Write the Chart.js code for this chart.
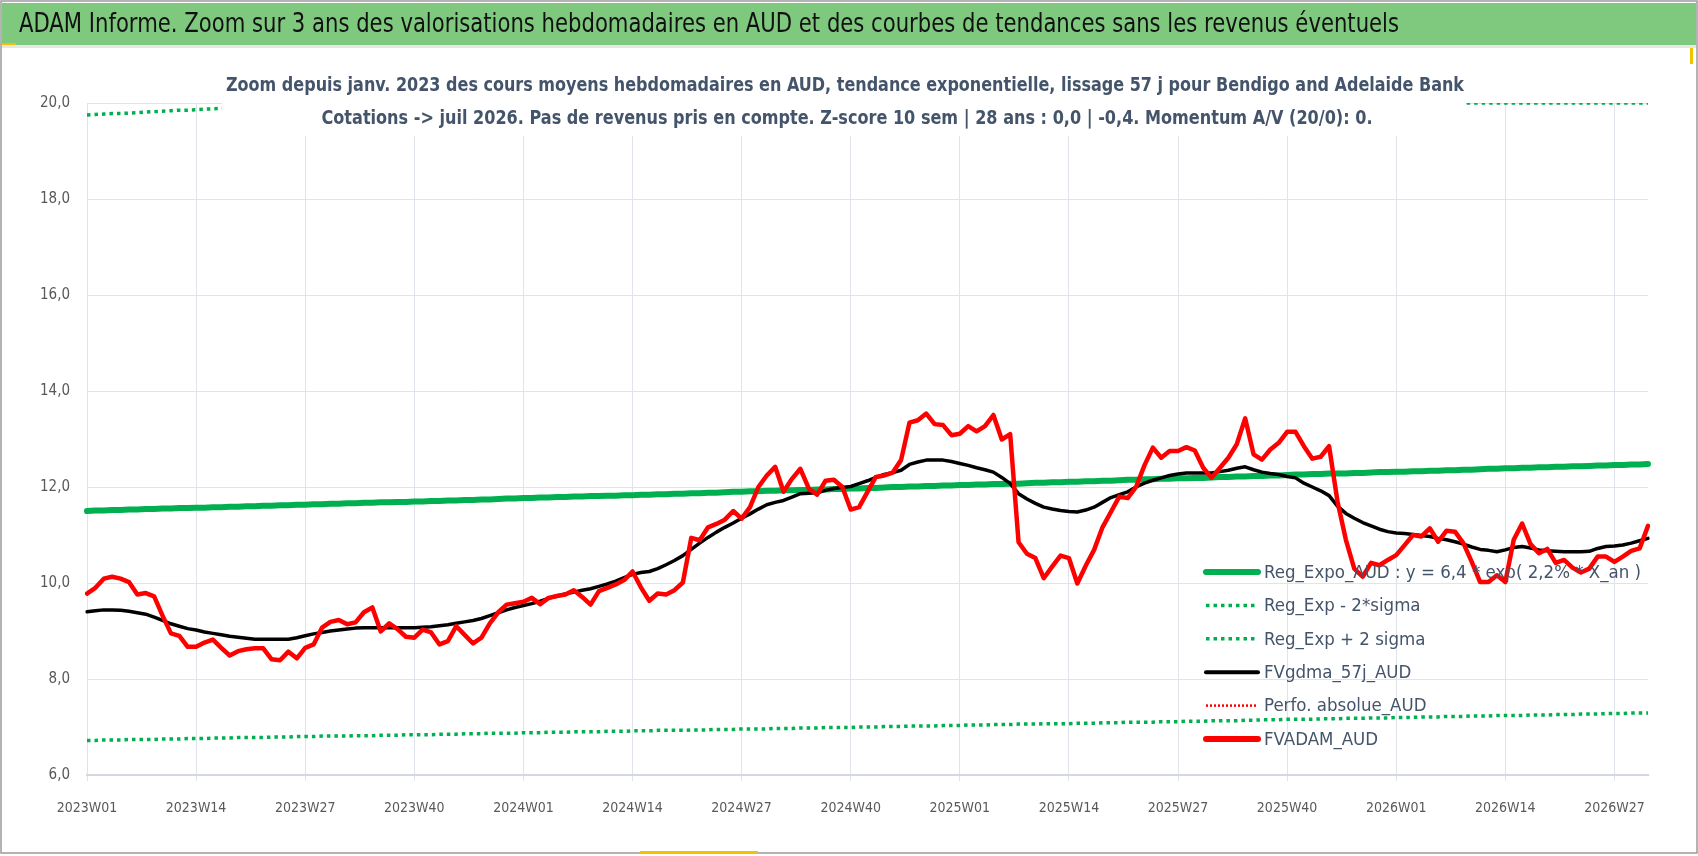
<!DOCTYPE html>
<html>
<head>
<meta charset="utf-8">
<script src="https://cdn.jsdelivr.net/npm/chart.js@4.4.1/dist/chart.umd.min.js"></script>
<style>
  html, body { margin: 0; padding: 0; background: #fff; }
  #wrap { width: 1698px; height: 856px; }
</style>
</head>
<body>
<div id="wrap"><canvas id="canvas" width="1698" height="856"></canvas></div>
<script>
var FONT = '"Liberation Sans Narrow", "DejaVu Sans Condensed", "Noto Sans", sans-serif';

var mainTitle = 'ADAM Informe. Zoom sur 3 ans des valorisations hebdomadaires en AUD et des courbes de tendances sans les revenus éventuels';
var subTitle = [
    'Zoom depuis janv. 2023 des cours moyens hebdomadaires en AUD, tendance exponentielle, lissage 57 j pour Bendigo and Adelaide Bank',
    'Cotations -> juil 2026. Pas de revenus pris en compte. Z-score 10 sem | 28 ans : 0,0 | -0,4. Momentum A/V (20/0): 0.'
];

// weeks per year shown on the axis (2026 stops at W31)
var years = [2023, 2024, 2025, 2026];
var weeksInYear = [52, 52, 52, 31];

// FVADAM_AUD, weekly
var fvadam = [
    9.78, 9.90, 10.09, 10.13, 10.09, 10.02, 9.76, 9.79, 9.72, 9.32,
    8.95, 8.90, 8.67, 8.67, 8.76, 8.82, 8.65, 8.49, 8.58, 8.62,
    8.64, 8.64, 8.41, 8.39, 8.57, 8.43, 8.65, 8.72, 9.07, 9.19,
    9.23, 9.14, 9.18, 9.39, 9.49, 8.99, 9.16, 9.04, 8.88, 8.86,
    9.03, 8.97, 8.72, 8.79, 9.10, 8.92, 8.74, 8.86, 9.16, 9.39,
    9.55, 9.58, 9.61, 9.69, 9.56, 9.69, 9.73, 9.76, 9.85, 9.71,
    9.55, 9.83, 9.90, 9.97, 10.06, 10.24, 9.91, 9.63, 9.78, 9.76,
    9.85, 10.01, 10.94, 10.89, 11.16, 11.23, 11.32, 11.50, 11.34, 11.58,
    12.00, 12.24, 12.42, 11.90, 12.17, 12.38, 11.97, 11.84, 12.13, 12.15,
    12.00, 11.53, 11.58, 11.90, 12.21, 12.24, 12.30, 12.56, 13.34, 13.39,
    13.53, 13.31, 13.29, 13.08, 13.11, 13.27, 13.16, 13.27, 13.50, 12.99,
    13.10, 10.85, 10.61, 10.52, 10.10, 10.34, 10.57, 10.52, 9.99, 10.36,
    10.69, 11.16, 11.48, 11.80, 11.77, 12.00, 12.45, 12.82, 12.61, 12.75,
    12.75, 12.83, 12.76, 12.40, 12.19, 12.40, 12.61, 12.89, 13.43, 12.68,
    12.57, 12.78, 12.92, 13.15, 13.15, 12.85, 12.59, 12.63, 12.85, 11.70,
    10.90, 10.30, 10.13, 10.42, 10.37, 10.48, 10.58, 10.79, 11.00, 10.97,
    11.14, 10.86, 11.09, 11.07, 10.83, 10.44, 10.02, 10.02, 10.16, 10.02,
    10.90, 11.24, 10.81, 10.62, 10.71, 10.42, 10.48, 10.32, 10.22, 10.30,
    10.55, 10.55, 10.44, 10.55, 10.67, 10.72, 11.19
];

// FVgdma_57j_AUD, weekly
var fvgdma = [
    9.40, 9.42, 9.44, 9.44, 9.43, 9.41, 9.38, 9.35, 9.29, 9.22,
    9.15, 9.10, 9.05, 9.02, 8.98, 8.95, 8.92, 8.89, 8.87, 8.85,
    8.83, 8.83, 8.83, 8.83, 8.83, 8.86, 8.90, 8.94, 8.97, 9.00,
    9.02, 9.04, 9.06, 9.07, 9.07, 9.07, 9.07, 9.07, 9.07, 9.07,
    9.08, 9.09, 9.11, 9.13, 9.16, 9.19, 9.22, 9.26, 9.32, 9.38,
    9.44, 9.49, 9.53, 9.57, 9.62, 9.68, 9.73, 9.77, 9.81, 9.85,
    9.88, 9.93, 9.98, 10.04, 10.11, 10.18, 10.22, 10.24, 10.30, 10.38,
    10.47, 10.57, 10.70, 10.83, 10.95, 11.06, 11.16, 11.25, 11.35, 11.44,
    11.54, 11.63, 11.68, 11.72, 11.79, 11.86, 11.87, 11.88, 11.93, 11.97,
    11.99, 12.01, 12.07, 12.13, 12.20, 12.26, 12.30, 12.35, 12.47, 12.52,
    12.56, 12.56, 12.56, 12.53, 12.49, 12.45, 12.40, 12.36, 12.31, 12.20,
    12.07, 11.86, 11.75, 11.66, 11.58, 11.54, 11.51, 11.49, 11.48, 11.52,
    11.58, 11.68, 11.78, 11.84, 11.90, 12.00, 12.08, 12.14, 12.19, 12.24,
    12.27, 12.29, 12.29, 12.29, 12.29, 12.32, 12.35, 12.39, 12.42, 12.36,
    12.31, 12.28, 12.26, 12.22, 12.19, 12.08, 12.00, 11.92, 11.82, 11.60,
    11.45, 11.35, 11.26, 11.19, 11.12, 11.07, 11.04, 11.03, 11.01, 10.99,
    10.97, 10.93, 10.90, 10.86, 10.81, 10.75, 10.70, 10.68, 10.65, 10.69,
    10.74, 10.76, 10.73, 10.69, 10.67, 10.66, 10.65, 10.65, 10.65, 10.66,
    10.72, 10.76, 10.77, 10.79, 10.83, 10.88, 10.93
];

// Reg_Expo_AUD
var regExpo = [
    11.50, 11.51, 11.51, 11.52, 11.52, 11.53, 11.53, 11.54, 11.54, 11.55,
    11.55, 11.56, 11.56, 11.57, 11.57, 11.58, 11.58, 11.59, 11.59, 11.60,
    11.60, 11.61, 11.61, 11.62, 11.62, 11.63, 11.63, 11.64, 11.64, 11.65,
    11.65, 11.66, 11.66, 11.67, 11.67, 11.68, 11.68, 11.69, 11.69, 11.70,
    11.70, 11.71, 11.71, 11.72, 11.72, 11.73, 11.73, 11.74, 11.74, 11.75,
    11.76, 11.76, 11.77, 11.77, 11.78, 11.78, 11.79, 11.79, 11.80, 11.80,
    11.81, 11.81, 11.82, 11.82, 11.83, 11.83, 11.84, 11.84, 11.85, 11.85,
    11.86, 11.86, 11.87, 11.87, 11.88, 11.88, 11.89, 11.90, 11.90, 11.91,
    11.91, 11.92, 11.92, 11.93, 11.93, 11.94, 11.94, 11.95, 11.95, 11.96,
    11.96, 11.97, 11.97, 11.98, 11.98, 11.99, 12.00, 12.00, 12.01, 12.01,
    12.02, 12.02, 12.03, 12.03, 12.04, 12.04, 12.05, 12.05, 12.06, 12.06,
    12.07, 12.07, 12.08, 12.09, 12.09, 12.10, 12.10, 12.11, 12.11, 12.12,
    12.12, 12.13, 12.13, 12.14, 12.15, 12.15, 12.16, 12.16, 12.17, 12.17,
    12.18, 12.18, 12.19, 12.19, 12.20, 12.21, 12.21, 12.22, 12.22, 12.23,
    12.23, 12.24, 12.24, 12.25, 12.26, 12.26, 12.27, 12.27, 12.28, 12.28,
    12.28, 12.29, 12.29, 12.30, 12.31, 12.31, 12.32, 12.32, 12.33, 12.33,
    12.34, 12.34, 12.35, 12.35, 12.36, 12.36, 12.37, 12.38, 12.38, 12.39,
    12.39, 12.40, 12.40, 12.41, 12.41, 12.42, 12.42, 12.43, 12.43, 12.44,
    12.45, 12.45, 12.46, 12.46, 12.47, 12.47, 12.48
];

// Reg_Exp - 2*sigma
var regLow = [
    6.72, 6.72, 6.73, 6.73, 6.73, 6.74, 6.74, 6.74, 6.74, 6.75,
    6.75, 6.75, 6.76, 6.76, 6.76, 6.77, 6.77, 6.77, 6.78, 6.78,
    6.78, 6.78, 6.79, 6.79, 6.79, 6.80, 6.80, 6.80, 6.81, 6.81,
    6.81, 6.81, 6.82, 6.82, 6.82, 6.83, 6.83, 6.83, 6.84, 6.84,
    6.84, 6.84, 6.85, 6.85, 6.85, 6.86, 6.86, 6.86, 6.87, 6.87,
    6.87, 6.87, 6.88, 6.88, 6.88, 6.89, 6.89, 6.89, 6.90, 6.90,
    6.90, 6.90, 6.91, 6.91, 6.91, 6.92, 6.92, 6.92, 6.93, 6.93,
    6.93, 6.93, 6.94, 6.94, 6.94, 6.95, 6.95, 6.95, 6.96, 6.96,
    6.96, 6.96, 6.97, 6.97, 6.97, 6.98, 6.98, 6.98, 6.99, 6.99,
    6.99, 6.99, 7.00, 7.00, 7.00, 7.01, 7.01, 7.01, 7.02, 7.02,
    7.02, 7.02, 7.03, 7.03, 7.03, 7.04, 7.04, 7.04, 7.05, 7.05,
    7.05, 7.06, 7.06, 7.06, 7.07, 7.07, 7.07, 7.07, 7.08, 7.08,
    7.08, 7.09, 7.09, 7.09, 7.10, 7.10, 7.10, 7.10, 7.11, 7.11,
    7.11, 7.12, 7.12, 7.12, 7.13, 7.13, 7.13, 7.13, 7.14, 7.14,
    7.15, 7.15, 7.15, 7.16, 7.16, 7.16, 7.16, 7.17, 7.17, 7.17,
    7.18, 7.18, 7.18, 7.19, 7.19, 7.19, 7.20, 7.20, 7.20, 7.21,
    7.21, 7.21, 7.22, 7.22, 7.22, 7.23, 7.23, 7.23, 7.24, 7.24,
    7.24, 7.24, 7.25, 7.25, 7.25, 7.26, 7.26, 7.26, 7.27, 7.27,
    7.27, 7.28, 7.28, 7.28, 7.29, 7.29, 7.29
];

// Reg_Exp + 2 sigma (held at the 20,0 ceiling once it leaves the axis, as drawn)
var regHigh = [
    19.75, 19.76, 19.77, 19.78, 19.78, 19.79, 19.80, 19.81, 19.82, 19.83,
    19.84, 19.85, 19.85, 19.86, 19.87, 19.88, 19.89, 19.90, 19.91, 19.91,
    19.92, 19.93, 19.94, 19.95, 19.96, 19.97, 19.98, 19.98, 19.99, 20.00,
    20.00, 20.00, 20.00, 20.00, 20.00, 20.00, 20.00, 20.00, 20.00, 20.00,
    20.00, 20.00, 20.00, 20.00, 20.00, 20.00, 20.00, 20.00, 20.00, 20.00,
    20.00, 20.00, 20.00, 20.00, 20.00, 20.00, 20.00, 20.00, 20.00, 20.00,
    20.00, 20.00, 20.00, 20.00, 20.00, 20.00, 20.00, 20.00, 20.00, 20.00,
    20.00, 20.00, 20.00, 20.00, 20.00, 20.00, 20.00, 20.00, 20.00, 20.00,
    20.00, 20.00, 20.00, 20.00, 20.00, 20.00, 20.00, 20.00, 20.00, 20.00,
    20.00, 20.00, 20.00, 20.00, 20.00, 20.00, 20.00, 20.00, 20.00, 20.00,
    20.00, 20.00, 20.00, 20.00, 20.00, 20.00, 20.00, 20.00, 20.00, 20.00,
    20.00, 20.00, 20.00, 20.00, 20.00, 20.00, 20.00, 20.00, 20.00, 20.00,
    20.00, 20.00, 20.00, 20.00, 20.00, 20.00, 20.00, 20.00, 20.00, 20.00,
    20.00, 20.00, 20.00, 20.00, 20.00, 20.00, 20.00, 20.00, 20.00, 20.00,
    20.00, 20.00, 20.00, 20.00, 20.00, 20.00, 20.00, 20.00, 20.00, 20.00,
    20.00, 20.00, 20.00, 20.00, 20.00, 20.00, 20.00, 20.00, 20.00, 20.00,
    20.00, 20.00, 20.00, 20.00, 20.00, 20.00, 20.00, 20.00, 20.00, 20.00,
    20.00, 20.00, 20.00, 20.00, 20.00, 20.00, 20.00, 20.00, 20.00, 20.00,
    20.00, 20.00, 20.00, 20.00, 20.00, 20.00, 20.00
];

// Perfo. absolue_AUD has no point in this window
var perfoAbs = [];

var weekLabels = [];
years.forEach(function (y, k) {
    for (var w = 1; w <= weeksInYear[k]; w++) {
        weekLabels.push(y + 'W' + (w < 10 ? '0' + w : w));
    }
});
weekLabels = weekLabels.slice(0, fvadam.length);

// draw text squeezed/stretched to a given width (Excel font is narrower)
function fitText(ctx, text, x, y, width, align) {
    var w = ctx.measureText(text).width;
    var sx = width / w;
    ctx.save();
    ctx.translate(align === 'center' ? x - width / 2 : x, y);
    ctx.scale(sx, 1);
    ctx.textAlign = 'left';
    ctx.fillText(text, 0, 0);
    ctx.restore();
}

var decorPlugin = {
    id: 'decor',
    beforeDraw: function (chart) {
        var ctx = chart.ctx;
        ctx.save();
        ctx.fillStyle = '#ffffff';
        ctx.fillRect(0, 0, chart.width, chart.height);
        ctx.fillStyle = '#7fc97f';
        ctx.fillRect(2, 3, 1694, 42);
        ctx.fillStyle = '#e6e6e6';
        ctx.fillRect(2, 45, 1694, 3);
        ctx.strokeStyle = '#9a9a9a';
        ctx.lineWidth = 1.5;
        ctx.strokeRect(1, 1, 1696, 852);
        ctx.fillStyle = '#f2c200';
        ctx.fillRect(2, 43, 14, 2);
        ctx.fillRect(1690, 48, 3, 16);
        ctx.fillRect(640, 851, 118, 3);
        ctx.fillStyle = '#111111';
        ctx.font = '27px ' + FONT;
        ctx.textBaseline = 'middle';
        fitText(ctx, mainTitle, 19, 25, 1380);
        ctx.restore();
    },
    afterDatasetsDraw: function (chart) {
        var ctx = chart.ctx;
        ctx.save();
        // subtitle box sits over the top of the plot
        ctx.fillStyle = '#ffffff';
        ctx.fillRect(222, 58, 1244, 78);
        ctx.fillStyle = '#44546a';
        ctx.font = 'bold 20px ' + FONT;
        ctx.textBaseline = 'middle';
        fitText(ctx, subTitle[0], 845, 86, 1238, 'center');
        fitText(ctx, subTitle[1], 847, 119, 1051, 'center');

        // legend inside the plot, lower right
        var x0 = 1206, len = 52, y0 = 572, step = 33.4;
        ctx.font = '18.5px ' + FONT;
        chart.data.datasets.forEach(function (ds, k) {
            var y = y0 + k * step;
            ctx.save();
            ctx.strokeStyle = ds.borderColor;
            ctx.lineWidth = ds.legendWidth;
            ctx.lineCap = ds.borderDash.length ? 'butt' : 'round';
            ctx.setLineDash(ds.borderDash);
            ctx.beginPath();
            ctx.moveTo(x0, y);
            ctx.lineTo(x0 + len, y);
            ctx.stroke();
            ctx.restore();
            ctx.fillStyle = '#44546a';
            ctx.textAlign = 'left';
            ctx.fillText(ds.label, x0 + len + 6, y + 1);
        });
        ctx.restore();
    }
};

var gridColor = '#dfe3ea';

new Chart(document.getElementById('canvas').getContext('2d'), {
    type: 'line',
    data: {
        labels: weekLabels,
        datasets: [
            { label: 'Reg_Expo_AUD : y = 6,4 * exp( 2,2% * X_an )', data: regExpo,
              borderColor: '#00b050', borderWidth: 6, borderDash: [], legendWidth: 6, order: 2 },
            { label: 'Reg_Exp - 2*sigma', data: regLow, borderCapStyle: 'butt',
              borderColor: '#00b050', borderWidth: 3.5, borderDash: [3.5, 4], legendWidth: 3.5, order: 3 },
            { label: 'Reg_Exp + 2 sigma', data: regHigh, borderCapStyle: 'butt',
              borderColor: '#00b050', borderWidth: 3.5, borderDash: [3.5, 4], legendWidth: 3.5, order: 3 },
            { label: 'FVgdma_57j_AUD', data: fvgdma,
              borderColor: '#000000', borderWidth: 3.5, borderDash: [], legendWidth: 4, order: 1 },
            { label: 'Perfo. absolue_AUD', data: perfoAbs, borderCapStyle: 'butt',
              borderColor: '#ff0000', borderWidth: 2.5, borderDash: [2, 2], legendWidth: 2.5, order: 4 },
            { label: 'FVADAM_AUD', data: fvadam,
              borderColor: '#ff0000', borderWidth: 4.5, borderDash: [], legendWidth: 6, order: 0 }
        ]
    },
    options: {
        responsive: false,
        animation: false,
        devicePixelRatio: 1,
        layout: { padding: { left: 7, right: 50, top: 103, bottom: 40 } },
        elements: {
            point: { radius: 0 },
            line: { tension: 0, borderJoinStyle: 'round', borderCapStyle: 'round' }
        },
        plugins: {
            legend: { display: false },
            tooltip: { enabled: false },
            title: { display: false }
        },
        scales: {
            x: {
                afterFit: function (s) { s.height = 41; },
                // one labelled tick every 13 weeks
                afterBuildTicks: function (s) {
                    s.ticks = s.ticks.filter(function (t, i) { return i % 13 === 0; });
                },
                grid: { color: gridColor, tickLength: 6 },
                border: { color: '#d3d7de', width: 2 },
                ticks: {
                    autoSkip: false,
                    maxRotation: 0,
                    padding: 19,
                    color: '#595959',
                    font: { family: FONT, size: 14 },
                    callback: function (v) { return this.getLabelForValue(v); }
                }
            },
            y: {
                min: 6,
                max: 20,
                afterFit: function (s) { s.width = 80; },
                grid: { color: gridColor, drawTicks: false },
                border: { display: false },
                ticks: {
                    stepSize: 2,
                    padding: 17,
                    color: '#595959',
                    font: { family: FONT, size: 15 },
                    callback: function (v) { return v.toFixed(1).replace('.', ','); }
                }
            }
        }
    },
    plugins: [decorPlugin]
});
</script>
</body>
</html>
